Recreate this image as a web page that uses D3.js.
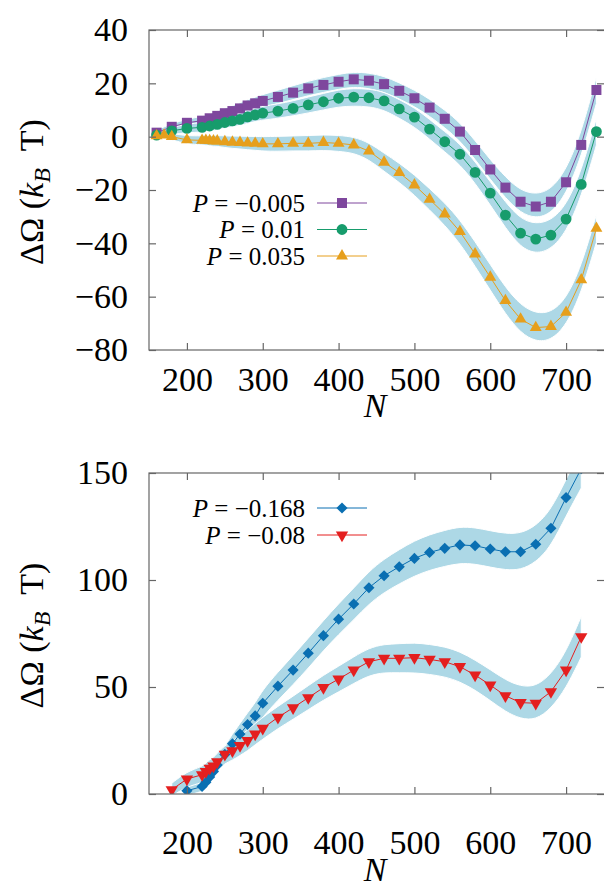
<!DOCTYPE html>
<html>
<head>
<meta charset="utf-8">
<script src="https://cdn.jsdelivr.net/npm/d3@7"></script>
<style>
body { margin: 0; background: #fff; }
</style>
</head>
<body>
<svg width="604" height="889"></svg>
<script>
// ---- data ----
const xTicks = [200, 300, 400, 500, 600, 700];
const yTicksTop = [-80, -60, -40, -20, 0, 20, 40];
const yTicksBottom = [0, 50, 100, 150];

// top panel
const nPurple = [160, 180, 200, 220, 230, 240, 250, 260, 270, 280, 290,
    300, 320, 340, 360, 380, 400, 420, 440, 460, 480, 500, 520, 540, 560, 580, 600, 620, 640, 660, 680, 700, 720, 740];
const vPurple = [1.5, 3.7, 5.2, 6.0, 6.9, 7.8, 8.8, 9.6, 10.6, 11.7, 12.5,
    13.4, 14.9, 16.5, 18.1, 19.4, 20.6, 21.5, 21.0, 19.7, 17.2, 14.4, 10.9, 6.7, 1.9, -5.0, -12.3, -19.1, -24.4, -26.2, -24.4, -17.1, -3.1, 17.5];
const ePurple = [1.0, 1.2, 1.4, 1.6, 1.7, 1.8, 1.9, 2.0, 2.1, 2.2, 2.3,
    2.4, 2.5, 2.6, 2.7, 2.8, 2.8, 2.8, 2.9, 3.0, 3.0, 3.1, 3.2, 3.3, 3.4, 3.5, 3.7, 3.9, 4.2, 4.5, 4.5, 4.5, 4.5, 5.0];

const nGreen = nPurple;
const vGreen = [0.6, 2.2, 3.1, 3.5, 4.0, 4.6, 5.3, 5.9, 6.5, 7.4, 8.2,
    8.8, 9.6, 10.6, 11.9, 13.1, 14.4, 14.8, 14.6, 13.4, 10.4, 7.3, 2.8, -1.9, -6.6, -13.4, -21.2, -29.4, -36.2, -38.4, -36.9, -30.9, -17.9, 1.9];
const eGreen = [1.0, 1.3, 1.6, 1.8, 1.9, 2.0, 2.1, 2.2, 2.3, 2.4, 2.5,
    2.6, 2.7, 2.8, 3.0, 3.1, 3.2, 3.3, 3.3, 3.4, 3.5, 3.6, 3.7, 3.8, 3.9, 4.0, 4.4, 4.8, 5.3, 5.6, 5.4, 5.0, 4.8, 5.0];

const nOrange = [160, 170, 180, 200, 220, 225, 230, 235, 240, 250, 260, 270, 280, 290,
    300, 320, 340, 360, 380, 400, 420, 440, 460, 480, 500, 520, 540, 560, 580, 600, 620, 640, 660, 680, 700, 720, 740];
const vOrange = [0.3, 0.6, 0.0, -1.2, -1.4, -1.4, -1.5, -1.6, -1.6, -1.9, -2.1, -2.2, -2.4, -2.5,
    -2.7, -2.7, -2.5, -2.5, -2.2, -2.5, -3.1, -5.4, -9.6, -13.5, -18.1, -23.5, -29.0, -35.6, -44.0, -52.7, -61.5, -68.4, -71.6, -71.2, -65.9, -53.7, -34.4];
const eOrange = [1.0, 1.1, 1.2, 1.5, 1.7, 1.8, 1.9, 2.0, 2.0, 2.2, 2.3, 2.4, 2.5, 2.6,
    2.7, 2.8, 2.8, 2.9, 2.9, 3.0, 3.0, 3.2, 3.4, 3.6, 3.8, 4.0, 4.2, 4.4, 4.6, 4.8, 5.0, 5.2, 5.3, 5.2, 5.0, 5.0, 5.2];

// bottom panel
const nBlue = [200, 220, 225, 230, 235, 240, 250, 260, 270, 280, 290,
    300, 320, 340, 360, 380, 400, 420, 440, 460, 480, 500, 520, 540, 560, 580, 600, 620, 640, 660, 680, 700, 720];
const vBlue = [1.5, 3.5, 5.5, 8.0, 10.5, 13.5, 18.5, 23.5, 28.0, 32.5, 36.5,
    42.4, 50.4, 57.9, 65.8, 74.0, 81.7, 88.8, 96.4, 102.0, 106.2, 110.1, 112.9, 114.8, 116.4, 116.0, 114.5, 113.2, 113.2, 116.7, 124.2, 138.5, 152.0];
const eBlue = [2.0, 2.5, 2.8, 3.0, 3.3, 3.5, 4.0, 4.5, 5.0, 5.5, 6.0,
    6.3, 6.6, 6.8, 7.0, 7.0, 7.2, 7.4, 7.6, 7.8, 8.0, 8.2, 8.3, 8.4, 8.5, 8.5, 8.5, 8.5, 8.5, 8.5, 8.5, 8.5, 9.0];

const nRed = [180, 200, 220, 225, 230, 235, 240, 250, 260, 270, 280, 290, 300,
    320, 340, 360, 380, 400, 420, 440, 460, 480, 500, 520, 540, 560, 580, 600, 620, 640, 660, 680, 700, 720];
const vRed = [2.0, 7.0, 9.0, 10.5, 12.0, 13.0, 15.0, 18.5, 20.2, 22.6, 25.0, 28.0, 30.7,
    35.8, 40.3, 45.0, 49.7, 53.7, 57.9, 61.8, 63.4, 63.4, 63.7, 62.9, 61.8, 59.5, 55.6, 50.9, 45.9, 42.7, 42.4, 47.8, 57.9, 73.5];
const eRed = [3.0, 3.5, 3.8, 3.9, 4.0, 4.0, 4.1, 4.2, 4.4, 4.6, 4.8, 5.0, 5.1,
    5.2, 5.4, 5.6, 5.8, 6.0, 6.2, 6.4, 6.6, 6.8, 7.0, 7.0, 7.0, 7.0, 7.0, 7.2, 7.4, 7.6, 7.8, 8.0, 8.5, 9.5];

const labelsTop = ['\u22120.005', '0.01', '0.035'];
const labelsBottom = ['\u22120.168', '\u22120.08'];

// ---- drawing ----
const svg = d3.select('svg');
svg.selectAll('*').remove();

const serif = 'Liberation Serif, DejaVu Serif, Times New Roman, serif';
svg.attr('font-family', serif);

const frameColor = '#666';
const bandColor = '#add8e6';
const tickFont = 34;

const x = d3.scaleLinear().domain([150, 750]).range([149, 604]);

const pack = (ns, vs, es) => ns.map((n, i) => ({n: n, v: vs[i], e: es[i]}));

const symbols = {
    square: {type: d3.symbolSquare, size: 100, rot: 0},
    circle: {type: d3.symbolCircle, size: 92, rot: 0},
    triangle: {type: d3.symbolTriangle, size: 62, rot: 0},
    diamond: {type: d3.symbolSquare, size: 62, rot: 45},
    triangleDown: {type: d3.symbolTriangle, size: 66, rot: 180},
};

function marker(sel, shape, color, cx, cy) {
    const s = symbols[shape];
    sel.append('path')
        .attr('d', d3.symbol().type(s.type).size(s.size)())
        .attr('transform', `translate(${cx},${cy}) rotate(${s.rot})`)
        .attr('fill', color);
}

function panel(cfg) {
    const g = svg.append('g').attr('font-family', serif);
    const y = d3.scaleLinear().domain(cfg.domain).range([cfg.bottom, cfg.top]);

    const clipId = 'clip' + cfg.top;
    svg.append('clipPath').attr('id', clipId)
        .append('rect')
        .attr('x', 149).attr('y', cfg.top)
        .attr('width', 455).attr('height', cfg.bottom - cfg.top);

    const plot = g.append('g').attr('clip-path', `url(#${clipId})`);

    const area = d3.area()
        .x(d => x(d.n))
        .y0(d => y(d.v - d.e))
        .y1(d => y(d.v + d.e))
        .curve(d3.curveBasis);

    const line = d3.line()
        .x(d => x(d.n))
        .y(d => y(d.v));

    cfg.series.forEach(s => {
        plot.append('path')
            .attr('d', area(s.data))
            .attr('fill', bandColor)
            .attr('stroke', '#fff')
            .attr('stroke-width', 1);
    });
    cfg.series.forEach(s => {
        plot.append('path')
            .attr('d', line(s.data))
            .attr('fill', 'none')
            .attr('stroke', s.color)
            .attr('stroke-width', 1);
    });
    cfg.series.forEach(s => {
        s.data.forEach(d => marker(plot, s.shape, s.color, x(d.n), y(d.v)));
    });

    // axes, ticks pointing inward
    const styleAxis = a => {
        a.attr('font-family', serif).attr('font-size', tickFont);
        a.select('.domain').remove();
        a.selectAll('.tick line').attr('stroke', frameColor).attr('stroke-width', 1.2);
        a.selectAll('.tick text').attr('fill', '#000');
    };

    g.append('g')
        .attr('transform', `translate(0,${cfg.bottom})`)
        .call(d3.axisBottom(x).tickValues(xTicks).tickSize(-7).tickPadding(cfg.xPad).tickFormat(d3.format('d')))
        .call(styleAxis);

    g.append('g')
        .attr('transform', `translate(0,${cfg.top})`)
        .call(d3.axisTop(x).tickValues(xTicks).tickSize(-7).tickFormat(''))
        .call(styleAxis);

    g.append('g')
        .attr('transform', 'translate(149,0)')
        .call(d3.axisLeft(y).tickValues(cfg.ticks).tickSize(-7).tickPadding(21).tickFormat(d3.format('d')))
        .call(styleAxis);

    g.append('g')
        .attr('transform', 'translate(604,0)')
        .call(d3.axisRight(y).tickValues(cfg.ticks).tickSize(-7).tickFormat(''))
        .call(styleAxis);

    g.append('rect')
        .attr('x', 149).attr('y', cfg.top)
        .attr('width', 456).attr('height', cfg.bottom - cfg.top)
        .attr('fill', 'none')
        .attr('stroke', frameColor)
        .attr('stroke-width', 1.2);

    // axis titles
    g.append('text')
        .attr('x', 375).attr('y', cfg.bottom + cfg.nOffset)
        .attr('text-anchor', 'middle')
        .attr('font-size', tickFont)
        .attr('font-style', 'italic')
        .text('N');

    const yl = g.append('text')
        .attr('transform', `translate(43,${(cfg.top + cfg.bottom) / 2 + 2}) rotate(-90)`)
        .attr('text-anchor', 'middle')
        .attr('font-size', tickFont);
    yl.append('tspan').text('\u0394\u03A9 (');
    yl.append('tspan').attr('font-style', 'italic').text('k');
    yl.append('tspan').attr('font-style', 'italic').attr('font-size', 24).attr('dy', 7).text('B');
    yl.append('tspan').attr('dy', -7).text('\u2002T)');

    // legend
    cfg.series.forEach((s, i) => {
        const ly = cfg.legendY + i * cfg.legendStep;
        const t = g.append('text')
            .attr('x', 305).attr('y', ly)
            .attr('dy', '0.35em')
            .attr('text-anchor', 'end')
            .attr('font-size', 25);
        t.append('tspan').attr('font-style', 'italic').text('P');
        t.append('tspan').text(' = ' + s.label);
        g.append('line')
            .attr('x1', 317).attr('x2', 367)
            .attr('y1', ly).attr('y2', ly)
            .attr('stroke', s.color).attr('stroke-width', 1);
        marker(g, s.shape, s.color, 342, ly);
    });
}

panel({
    top: 30, bottom: 350, domain: [-80, 40], ticks: yTicksTop,
    xPad: 17, nOffset: 67,
    legendY: 203, legendStep: 26.5,
    series: [
        {data: pack(nPurple, vPurple, ePurple), color: '#7e479d', shape: 'square', label: labelsTop[0]},
        {data: pack(nGreen, vGreen, eGreen), color: '#179c6c', shape: 'circle', label: labelsTop[1]},
        {data: pack(nOrange, vOrange, eOrange), color: '#e69f1c', shape: 'triangle', label: labelsTop[2]},
    ],
});

panel({
    top: 473, bottom: 794, domain: [0, 150], ticks: yTicksBottom,
    xPad: 36, nOffset: 87,
    legendY: 508, legendStep: 27,
    series: [
        {data: pack(nBlue, vBlue, eBlue), color: '#0a6fb2', shape: 'diamond', label: labelsBottom[0]},
        {data: pack(nRed, vRed, eRed), color: '#e41f1f', shape: 'triangleDown', label: labelsBottom[1]},
    ],
});
</script>
</body>
</html>
